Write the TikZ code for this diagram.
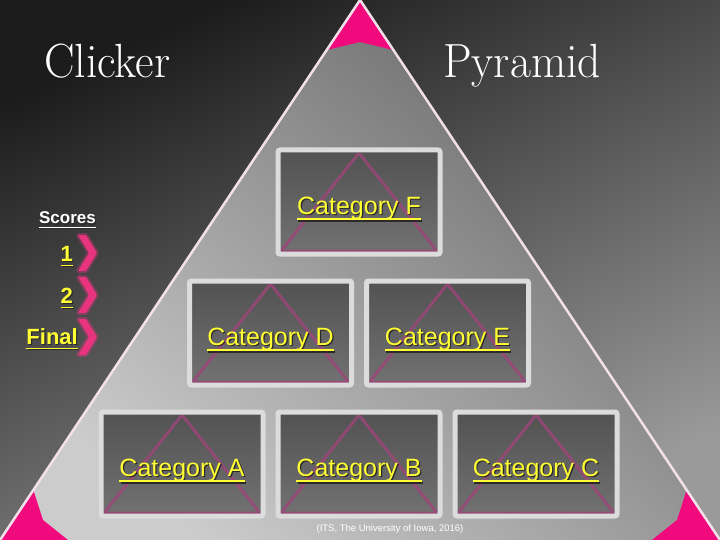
\documentclass[tikz,border=0pt]{standalone}
\usepackage{fontspec}
\usepackage{graphicx}
\usetikzlibrary{positioning}
\newfontfamily\arialfont{Liberation Sans}

\definecolor{bgdark}{HTML}{1C1C1C}
\definecolor{bglight}{HTML}{9A9A9A}
\definecolor{pyrtop}{HTML}{666666}
\definecolor{pyrbot}{HTML}{CCCCCC}
\definecolor{pyredge}{HTML}{F3E1EA}
\definecolor{cornerpink}{HTML}{F00A7E}
\definecolor{boxrim}{HTML}{DCDCDC}
\definecolor{boxtop}{HTML}{525252}
\definecolor{boxbot}{HTML}{727272}
\definecolor{boxtri}{HTML}{9E4579}
\definecolor{catyellow}{HTML}{FFFF33}
\definecolor{txtshadow}{HTML}{2A2A2A}
\definecolor{chevpink}{HTML}{E8347E}

\newlength{\ulwidth}
\newcommand{\ultext}[1]{\settowidth{\ulwidth}{#1}\rlap{\rule[-0.24em]{\ulwidth}{0.08em}}#1}
\newcommand{\shadowtext}[1]{\rlap{\kern1.2pt\raisebox{-1.2pt}{\color{txtshadow}\ultext{#1}}}\ultext{#1}}

\begin{document}
\begin{tikzpicture}[
  x=1pt, y=-1pt,
  title/.style={text=white, anchor=base west, inner sep=0pt, font=\fontsize{48}{56}\selectfont},
  catbox/.style={rectangle, draw=boxrim, line width=5pt, rounded corners=2pt,
    minimum width=162pt, minimum height=104pt, outer sep=0pt, inner sep=0pt,
    top color=boxtop, bottom color=boxbot, text=catyellow, text height=32pt,
    font=\arialfont\fontsize{25}{30}\selectfont,
    path picture={\draw[boxtri, line width=3pt, opacity=0.8, line join=round]
      ([yshift=-3pt]path picture bounding box.north)
      -- ([shift={(3pt,3pt)}]path picture bounding box.south west)
      -- ([shift={(-3pt,3pt)}]path picture bounding box.south east) -- cycle;}},
  scorehead/.style={anchor=base, inner sep=0pt, text=white, font=\arialfont\bfseries\fontsize{17}{20}\selectfont},
  scorelab/.style={anchor=base east, inner sep=0pt, text=catyellow, font=\arialfont\bfseries\fontsize{22}{26}\selectfont},
  chevron/.style={fill=chevpink, rounded corners=1pt, preaction={draw=chevpink, line width=4pt, opacity=0.35}},
  corner/.style={fill=cornerpink},
  footnote/.style={inner sep=0pt, text=white, font=\arialfont\fontsize{9.5}{11}\selectfont}
]
  \useasboundingbox (0,0) rectangle (720,540);

  % background and pyramid
  \shade[top color=bgdark, bottom color=bglight, shading angle=25] (0,0) rectangle (720,540);
  \shade[top color=pyrtop, bottom color=pyrbot, shading angle=-40] (360,0) -- (720,540) -- (0,540) -- cycle;
  \fill[corner] (360,0) -- (326.7,50) -- (360,42) -- (393.3,50) -- cycle;
  \fill[corner] (33.3,490) -- (43,520) -- (68,540) -- (0,540) -- cycle;
  \fill[corner] (686.7,490) -- (677,520) -- (652,540) -- (720,540) -- cycle;
  \draw[pyredge, line width=2.5pt] (0,540) -- (360,0) -- (720,540);

  % titles
  \node[title] (clicker) at (44,78) {\scalebox{0.95}[1]{Clicker}};
  \node[title] (pyramid) at (443,78) {\scalebox{0.95}[1]{Pyramid}};

  % categories
  \node[catbox] (catF) at (359,202) {\shadowtext{Category F}};
  \node[catbox, below=27pt of catF, xshift=-88.5pt] (catD) {\shadowtext{Category D}};
  \node[catbox, right=15pt of catD] (catE) {\shadowtext{Category E}};
  \node[catbox, below=27pt of catD, xshift=-88.5pt] (catA) {\shadowtext{Category A}};
  \node[catbox, right=15pt of catA] (catB) {\shadowtext{Category B}};
  \node[catbox, right=15pt of catB] (catC) {\shadowtext{Category C}};

  % scores
  \node[scorehead] (scores) at (67.5,224) {\shadowtext{Scores}};
  \node[scorelab] (round1) at (73,261) {\shadowtext{1}};
  \node[scorelab] (round2) at (73,303) {\shadowtext{2}};
  \node[scorelab] (final) at (78,344) {\shadowtext{Final}};
  \path[chevron, shift={(0,253)}] (78,-18) -- (86,-18) -- (97,0) -- (86,18) -- (78,18) -- (89,0) -- cycle;
  \path[chevron, shift={(0,295)}] (78,-18) -- (86,-18) -- (97,0) -- (86,18) -- (78,18) -- (89,0) -- cycle;
  \path[chevron, shift={(0,337)}] (78,-18) -- (86,-18) -- (97,0) -- (86,18) -- (78,18) -- (89,0) -- cycle;

  \node[footnote] (credit) at (390,529) {(ITS, The University of Iowa, 2016)};
\end{tikzpicture}
\end{document}
